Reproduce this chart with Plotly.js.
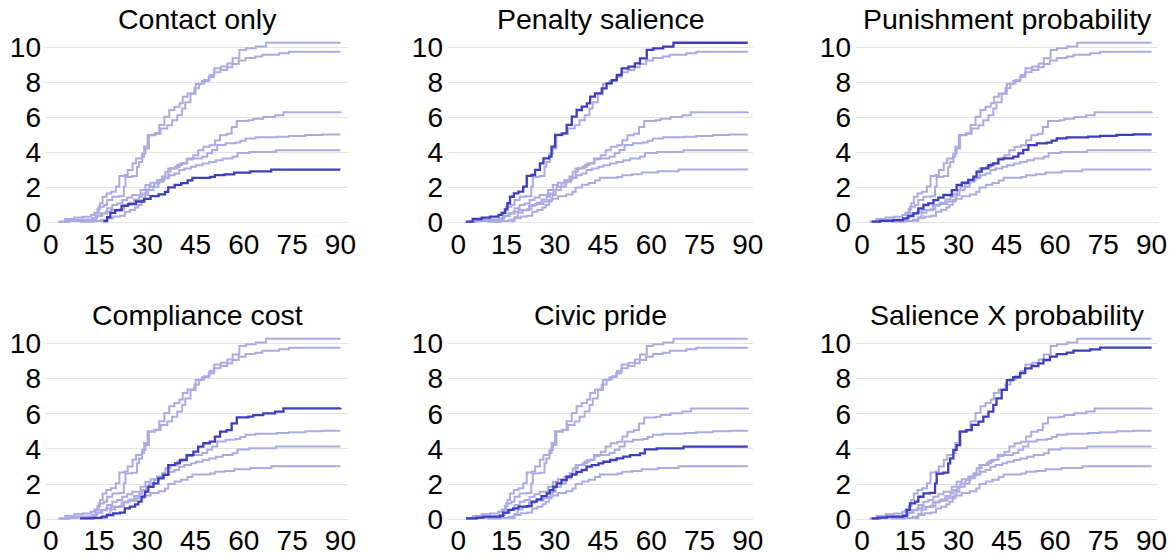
<!DOCTYPE html>
<html>
<head>
<meta charset="utf-8">
<script src="https://cdn.plot.ly/plotly-3.0.1.min.js"></script>
<style>html,body{margin:0;padding:0;background:#fff;}#chart{width:1176px;height:558px;}</style>
</head>
<body>
<div id="chart"></div>
<script>
// ---- data (cumulative values, step curves) ----
const panelTitles = ['Contact only', 'Penalty salience', 'Punishment probability', 'Compliance cost', 'Civic pride', 'Salience X probability'];
const xTickVals = [0, 15, 30, 45, 60, 75, 90];
const yTickVals = [0, 2, 4, 6, 8, 10];

const contactDays = [16.3, 17.5, 18.5, 20, 22, 24, 26.5, 29, 31, 33.5, 35.5, 36.5, 38.5, 40.5, 42.5, 44, 49.5, 51, 54, 57, 62, 68.5, 90];
const contactVals = [0.08, 0.3, 0.55, 0.7, 0.95, 1.05, 1.2, 1.35, 1.5, 1.6, 1.75, 2.0, 2.15, 2.25, 2.4, 2.55, 2.6, 2.7, 2.75, 2.85, 2.92, 3.02, 3.02];

const salienceDays = [2.4, 4.5, 7.3, 9.9, 12.5, 13.5, 14.5, 15.3, 16.1, 17.3, 18.7, 20.2, 21.3, 22.8, 23.9, 25.4, 26.5, 28.3, 29, 30.1, 32.2, 33.7, 35.3, 36.8, 38.4, 40, 41, 42.5, 44.6, 46.1, 47.7, 49.3, 50.8, 52.9, 54.9, 56.5, 58.6, 60.6, 63.7, 66.9, 90];
const salienceVals = [0.05, 0.2, 0.28, 0.33, 0.43, 0.55, 0.75, 1.1, 1.47, 1.66, 1.76, 2.05, 2.66, 2.71, 3.0, 3.38, 3.66, 3.76, 4.33, 5.0, 5.09, 5.57, 6.04, 6.42, 6.61, 6.8, 7.18, 7.37, 7.66, 7.94, 8.13, 8.42, 8.8, 8.9, 9.08, 9.37, 9.85, 9.94, 10.04, 10.26, 10.26];

const probabilityDays = [3, 5.6, 9.7, 12.8, 14.4, 16, 17.5, 19.1, 20.6, 22.2, 23.7, 25.3, 27.9, 29.4, 31, 33, 34.6, 35.6, 37.2, 39.3, 40.8, 42.4, 43.9, 47, 48.6, 50.1, 51.7, 54.3, 57.4, 58.9, 60.5, 63.6, 70.3, 74, 79.1, 84.3, 90];
const probabilityVals = [0.05, 0.09, 0.14, 0.24, 0.37, 0.52, 0.81, 1.0, 1.09, 1.28, 1.42, 1.57, 1.85, 2.14, 2.27, 2.43, 2.62, 2.9, 3.09, 3.28, 3.38, 3.6, 3.66, 3.76, 3.95, 4.14, 4.42, 4.52, 4.56, 4.67, 4.8, 4.86, 4.9, 4.94, 5.0, 5.03, 5.03];

const costDays = [9.1, 13.2, 15.8, 17.4, 19.4, 21.5, 23, 24.6, 26.2, 27.2, 28.2, 29.3, 30.3, 31.9, 33.4, 35, 36.5, 38.6, 40.1, 42.2, 44.3, 45.8, 47.4, 49.4, 51, 52.6, 54.6, 56.2, 57.8, 61.4, 62.9, 66, 69.7, 72.3, 90];
const costVals = [0.05, 0.08, 0.15, 0.24, 0.34, 0.38, 0.62, 0.72, 0.85, 1.0, 1.29, 1.57, 1.85, 2.04, 2.33, 2.52, 3.08, 3.18, 3.37, 3.65, 3.84, 4.13, 4.32, 4.41, 4.7, 4.98, 5.07, 5.45, 5.79, 5.83, 5.92, 6.02, 6.12, 6.3, 6.32];

const prideDays = [2.4, 5.7, 7.8, 13, 14, 15.6, 17.1, 18.7, 21.3, 22.8, 24.4, 25.9, 27.5, 28.5, 29.6, 30.6, 32.1, 33.7, 35.3, 36.8, 38.4, 39.9, 41.5, 43.6, 45.1, 47.2, 49.2, 51.3, 53.4, 56.5, 58, 61.7, 70, 90];
const prideVals = [0.05, 0.1, 0.15, 0.19, 0.38, 0.53, 0.62, 0.72, 0.75, 1.0, 1.13, 1.32, 1.47, 1.66, 1.85, 2.04, 2.23, 2.42, 2.55, 2.7, 2.8, 2.99, 3.08, 3.18, 3.27, 3.37, 3.46, 3.56, 3.65, 3.75, 3.97, 4.03, 4.13, 4.13];

const comboDays = [3, 5, 7.7, 12.8, 13.9, 14.9, 16.5, 17.5, 19.1, 21.1, 22.7, 23.2, 25.3, 26.8, 27.4, 28.4, 29.4, 30.5, 32.5, 34.1, 36.2, 37.7, 39.3, 40.8, 41.8, 43.4, 45, 47, 49.1, 50.7, 52.7, 54.8, 56.4, 58.4, 60.5, 63.6, 65.7, 70.9, 74, 90];
const comboVals = [0.05, 0.09, 0.15, 0.19, 0.53, 0.9, 1.0, 1.28, 1.47, 1.5, 2.04, 2.6, 2.65, 3.18, 3.46, 3.94, 4.22, 4.98, 5.07, 5.36, 5.55, 5.83, 6.12, 6.5, 6.87, 7.35, 7.91, 8.07, 8.3, 8.58, 8.71, 8.86, 9.05, 9.24, 9.39, 9.47, 9.58, 9.66, 9.75, 9.75];

const seriesDays = [contactDays, salienceDays, probabilityDays, costDays, prideDays, comboDays];
const seriesVals = [contactVals, salienceVals, probabilityVals, costVals, prideVals, comboVals];

// ---- layout geometry ----
const W = 1176, H = 558;
const FONT = 'Liberation Sans, Arial, Helvetica, sans-serif';
const DARK = '#3d3dbd', LIGHT = '#ababe3';
const colPx = [[46, 348, 50.8], [448, 753, 458.2], [856, 1158, 862]]; // left, right, x=0 pixel
const pxPerDay = 3.218;
const rowPx = [[222.5, 17.52], [519.3, 17.6]]; // y=0 pixel, px per unit
const yLo = -0.12, yHi = 10.6;

const traces = [];
const layout = {
  width: W, height: H,
  margin: {l: 0, r: 0, t: 0, b: 0},
  paper_bgcolor: '#ffffff', plot_bgcolor: '#ffffff',
  showlegend: false,
  font: {family: FONT, size: 28, color: '#000000'},
  annotations: []
};

for (let p = 0; p < 6; p++) {
  const col = p % 3, row = Math.floor(p / 3);
  const [l, r, z] = colPx[col];
  const [y0, ppu] = rowPx[row];
  const bottomPx = y0 - yLo * ppu, topPx = y0 - yHi * ppu;
  const sfx = p === 0 ? '' : String(p + 1);
  layout['xaxis' + sfx] = {
    domain: [l / W, r / W],
    range: [(l - z) / pxPerDay, (r - z) / pxPerDay],
    anchor: 'y' + sfx,
    showgrid: false, zeroline: false, showline: false,
    tickmode: 'array', tickvals: xTickVals, ticktext: xTickVals.map(String),
    ticks: '', ticklabelstandoff: 0,
    tickfont: {family: FONT, size: 28, color: '#000'}
  };
  layout['yaxis' + sfx] = {
    domain: [1 - bottomPx / H, 1 - topPx / H],
    range: [yLo, yHi],
    anchor: 'x' + sfx,
    showgrid: true, gridcolor: '#e3e3e3', gridwidth: 1,
    zeroline: false, showline: false,
    tickmode: 'array', tickvals: yTickVals, ticktext: yTickVals.map(String),
    ticks: '', ticklabelstandoff: 4,
    tickfont: {family: FONT, size: 28, color: '#000'}
  };
  layout.annotations.push({
    text: panelTitles[p], xref: 'paper', yref: 'paper',
    x: ((l + r) / 2) / W, y: 1 - (row === 0 ? 19.5 : 314.5) / H,
    xanchor: 'center', yanchor: 'middle', showarrow: false,
    font: {family: FONT, size: 28.5, color: '#000'}
  });
  for (let s = 0; s < 6; s++) {
    if (s === p) continue;
    traces.push({
      type: 'scatter', mode: 'lines', x: seriesDays[s], y: seriesVals[s],
      line: {shape: 'hv', color: LIGHT, width: 2},
      xaxis: 'x' + sfx, yaxis: 'y' + sfx, hoverinfo: 'skip'
    });
  }
  traces.push({
    type: 'scatter', mode: 'lines', x: seriesDays[p], y: seriesVals[p],
    line: {shape: 'hv', color: DARK, width: 2.3},
    xaxis: 'x' + sfx, yaxis: 'y' + sfx, hoverinfo: 'skip'
  });
}

Plotly.newPlot('chart', traces, layout, {staticPlot: true, displayModeBar: false});
</script>
</body>
</html>
